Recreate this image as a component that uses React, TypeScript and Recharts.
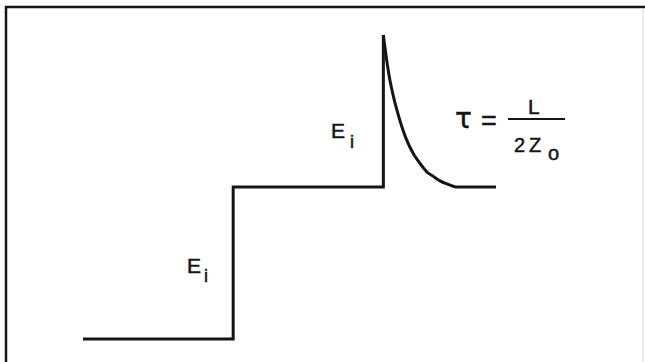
import React from "react";
import { LineChart, Line, XAxis, YAxis } from "recharts";

// time in arbitrary units, voltage in units of E_i
const stepTimes = [0, 10, 10, 20, 20];
const stepVolts = [0, 0, 1, 1, 2];

// decay after the spike
const decayTimes = [20, 20.22, 20.44, 20.66, 20.89, 21.22, 21.55, 21.99, 22.44, 22.89, 23.33, 23.77, 24.22, 24.77];
const decayVolts = [2, 1.835, 1.7, 1.6, 1.51, 1.4, 1.31, 1.22, 1.155, 1.1, 1.07, 1.04, 1.02, 1.0];

const tailTimes = [24.77, 27.5];
const tailVolts = [1.0, 1.0];

const zip = (ts: number[], vs: number[]) => ts.map((t, i) => ({ t, v: vs[i] }));
const stepData = zip(stepTimes, stepVolts);
const decayData = zip(decayTimes, decayVolts);
const tailData = zip(tailTimes, tailVolts);

const font = '"Liberation Sans", Arial, Helvetica, sans-serif';
const ink = "#151515";

export default function App() {
  return (
    <div style={{ position: "absolute", left: 0, top: 0, width: 645, height: 362, background: "#fff" }}>
      <LineChart width={645} height={362} margin={{ top: 35, right: 149, bottom: 23, left: 83 }}>
        <XAxis dataKey="t" type="number" domain={[0, 27.5]} hide allowDuplicatedCategory={false} />
        <YAxis type="number" domain={[0, 2]} hide />
        <Line data={stepData} type="linear" dataKey="v" stroke={ink} strokeWidth={3} dot={false}
          strokeLinejoin="miter" isAnimationActive={false} />
        <Line data={decayData} type="monotone" dataKey="v" stroke={ink} strokeWidth={3} dot={false}
          isAnimationActive={false} />
        <Line data={tailData} type="linear" dataKey="v" stroke={ink} strokeWidth={3} dot={false}
          isAnimationActive={false} />
      </LineChart>
      <svg width={645} height={362} style={{ position: "absolute", left: 0, top: 0, pointerEvents: "none" }}>
        <line x1={5} y1={7} x2={645} y2={7} stroke={ink} strokeWidth={2.5} />
        <line x1={6} y1={6} x2={6} y2={362} stroke={ink} strokeWidth={2.5} />
        <line x1={643} y1={8} x2={643} y2={362} stroke="#d8d8d8" strokeWidth={1} />
        <g fill={ink} stroke={ink} strokeWidth={0.5} fontFamily={font}>
          <text x={187} y={273} fontSize={21}>E</text>
          <text x={204} y={282} fontSize={18}>i</text>
          <text x={331} y={138} fontSize={21}>E</text>
          <text x={350} y={148} fontSize={18}>i</text>
          <text x={455} y={128} fontSize={28} fontFamily='"DejaVu Sans", sans-serif'>τ</text>
          <text x={481} y={130} fontSize={27}>=</text>
          <text x={528} y={114} fontSize={21}>L</text>
          <text x={514} y={152} fontSize={20}>2</text>
          <text x={529} y={152} fontSize={20}>Z</text>
          <text x={548} y={160} fontSize={20}>o</text>
        </g>
        <line x1={508} y1={119} x2={565} y2={119} stroke={ink} strokeWidth={2} />
      </svg>
    </div>
  );
}
